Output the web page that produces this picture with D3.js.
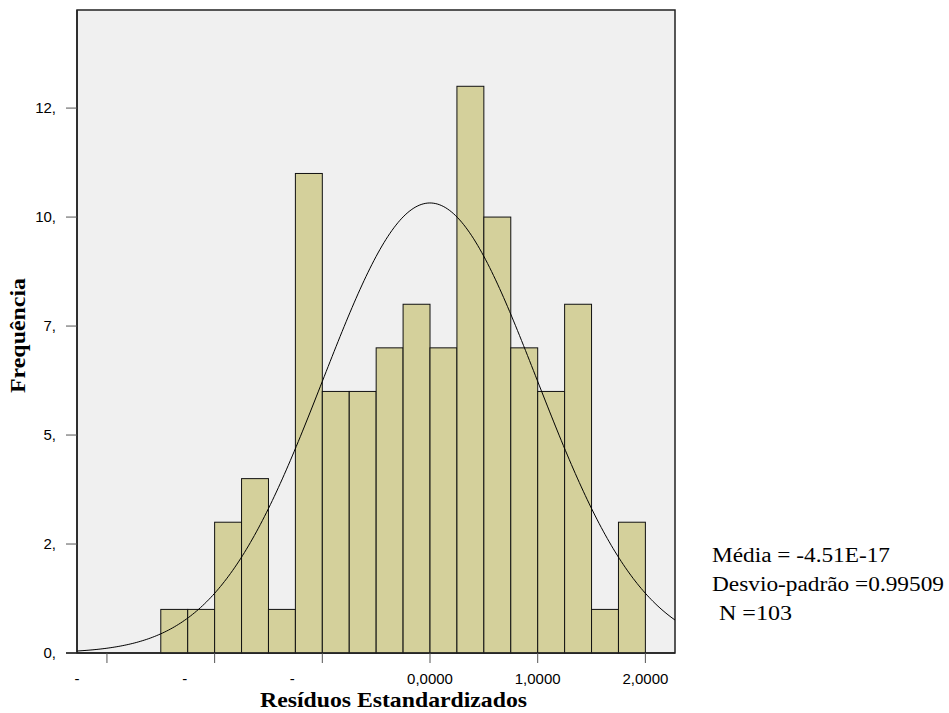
<!DOCTYPE html>
<html><head><meta charset="utf-8">
<script src="https://cdn.jsdelivr.net/npm/d3@7"></script>
<style>body{margin:0;background:#fff}</style>
</head><body>
<svg id="c" width="949" height="713"></svg>
<script>
// Data
const binStarts = [-2.5,-2.25,-2.0,-1.75,-1.5,-1.25,-1.0,-0.75,-0.5,-0.25,0,0.25,0.5,0.75,1.0,1.25,1.5,1.75];
const counts    = [1,1,3,4,1,11,6,6,7,8,7,13,10,7,6,8,1,3];
const binWidth = 0.25;
const yTickValues = [0,2.5,5,7.5,10,12.5];
const yTickLabels = ["0,","2,","5,","7,","10,","12,"];
const xTickValues = [-3,-2,-1,0,1,2];
const xTickLabels = ["-","-","-","0,0000","1,0000","2,0000"];
const mean = -4.51e-17, sd = 0.99509, N = 103;
const legendLines = ["Média = -4.51E-17","Desvio-padrão =0.99509","N =103"];
const legendWidths = [178,232,73];
const legendX = [712,712,719];

const svg = d3.select("#c");
const L=77, R=675, T=10, B=653;
const x = d3.scaleLinear().domain([-3.278,2.275]).range([L,R]);
const y = d3.scaleLinear().domain([0,14.75]).range([B,T]);

svg.append("rect").attr("x",L).attr("y",T).attr("width",R-L).attr("height",B-T)
  .attr("fill","#f0f0f0").attr("stroke","#222").attr("stroke-width",1.5);

svg.append("g").selectAll("rect").data(binStarts).join("rect")
  .attr("x",d=>x(d)).attr("width",d=>x(d+binWidth)-x(d))
  .attr("y",(d,i)=>y(counts[i])).attr("height",(d,i)=>B-y(counts[i]))
  .attr("fill","#d4d09b").attr("stroke","#111").attr("stroke-width",1);

// normal curve from mean/sd/N
const dom = x.domain();
const pts = d3.range(0,301).map(i=>{
  const v = dom[0]+(dom[1]-dom[0])*i/300;
  const p = N*binWidth/(sd*Math.sqrt(2*Math.PI))*Math.exp(-0.5*((v-mean)/sd)**2);
  return [v,p];
});
svg.append("path").datum(pts).attr("fill","none").attr("stroke","#000").attr("stroke-width",1)
  .attr("d",d3.line().x(d=>x(d[0])).y(d=>y(d[1])));

// y axis
const ya = svg.append("g");
ya.append("line").attr("x1",L).attr("x2",L).attr("y1",T).attr("y2",B).attr("stroke","#222").attr("stroke-width",1.5);
yTickValues.forEach((v,i)=>{
  ya.append("line").attr("x1",66).attr("x2",L).attr("y1",y(v)).attr("y2",y(v)).attr("stroke","#555");
  ya.append("text").attr("x",56).attr("y",y(v)).attr("dy","0.35em").attr("text-anchor","end")
    .attr("font-family","Liberation Sans, Arial, sans-serif").attr("font-size",15).text(yTickLabels[i]);
});
// x axis
const xa = svg.append("g");
xa.append("line").attr("x1",66).attr("x2",R).attr("y1",B).attr("y2",B).attr("stroke","#222").attr("stroke-width",1.5);
xTickValues.forEach((v,i)=>{
  xa.append("line").attr("x1",x(v)).attr("x2",x(v)).attr("y1",B).attr("y2",B+10).attr("stroke","#555");
  const neg = xTickLabels[i]==="-";
  xa.append("text").attr("x",neg?x(v)-30:x(v)).attr("y",684).attr("text-anchor","middle")
    .attr("font-family","Liberation Sans, Arial, sans-serif").attr("font-size",15).text(xTickLabels[i]);
});

svg.append("text").attr("x",260).attr("y",707)
  .attr("font-family","Liberation Serif, serif").attr("font-weight","bold").attr("font-size",21)
  .attr("textLength",267).attr("lengthAdjust","spacingAndGlyphs")
  .text("Resíduos Estandardizados");
svg.append("text").attr("transform","translate(25,393) rotate(-90)")
  .attr("font-family","Liberation Serif, serif").attr("font-weight","bold").attr("font-size",21)
  .attr("textLength",115).attr("lengthAdjust","spacingAndGlyphs")
  .text("Frequência");

svg.append("g").selectAll("text").data(legendLines).join("text")
  .attr("x",(d,i)=>legendX[i]).attr("y",(d,i)=>562+i*29)
  .attr("textLength",(d,i)=>legendWidths[i]).attr("lengthAdjust","spacingAndGlyphs")
  .attr("font-family","Liberation Serif, serif").attr("font-size",20).text(d=>d);
</script>
</body></html>
